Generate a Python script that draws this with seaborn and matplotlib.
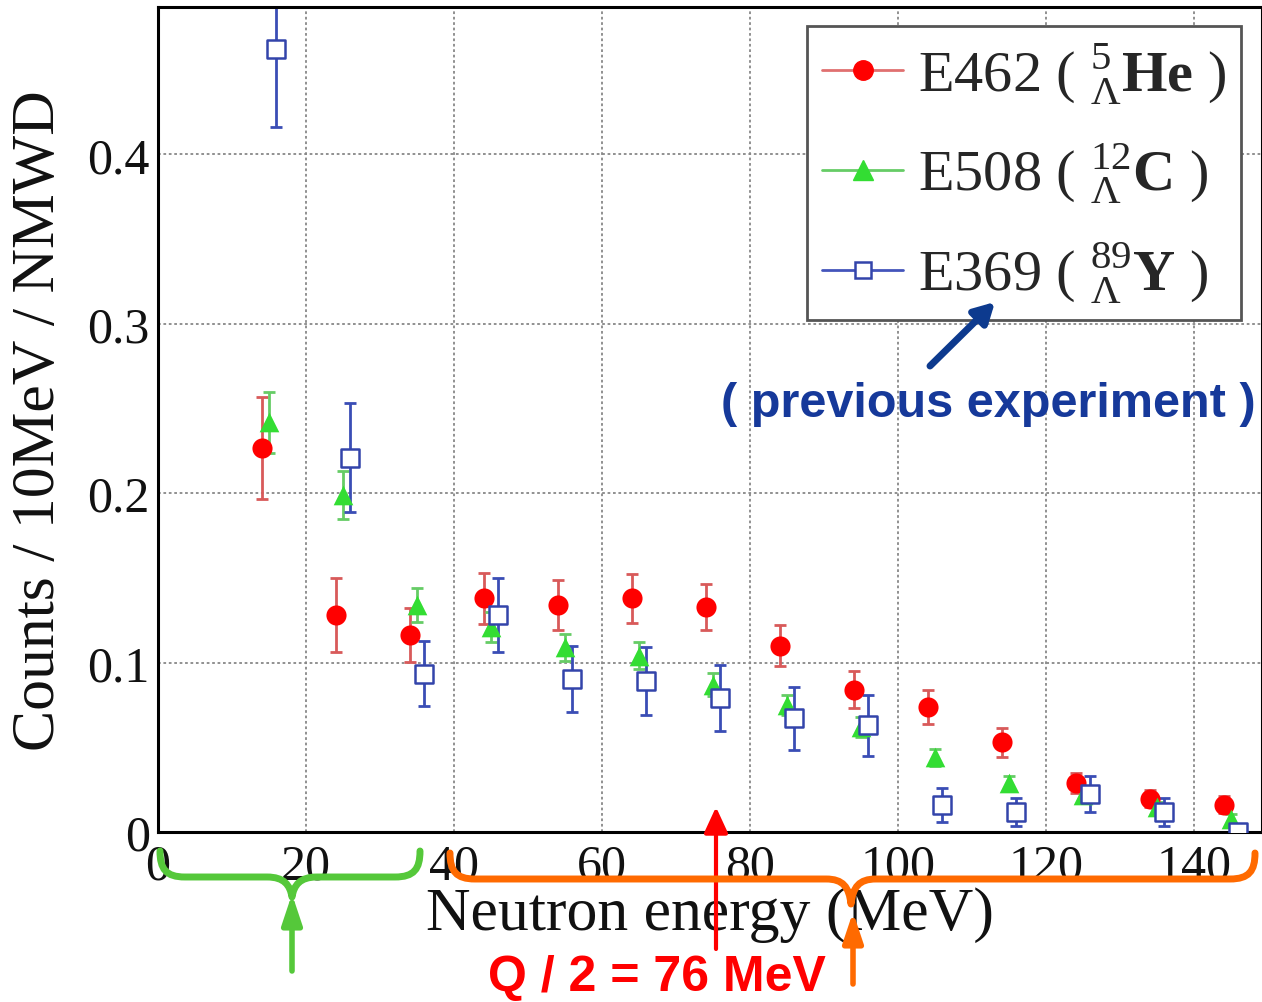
import numpy as np
import pandas as pd
import matplotlib
matplotlib.use("Agg")
import matplotlib.pyplot as plt
import seaborn as sns
from matplotlib.path import Path
from matplotlib.patches import PathPatch
from matplotlib.lines import Line2D
from matplotlib.ticker import MultipleLocator

# ---------------- data ----------------
red_x = [14, 24, 34, 44, 54, 64, 74, 84, 94, 104, 114, 124, 134, 144]
red_y = [0.2265, 0.128, 0.1165, 0.138, 0.134, 0.138, 0.133, 0.110, 0.084, 0.074, 0.053, 0.029, 0.0195, 0.016]
red_err = [0.030, 0.022, 0.016, 0.015, 0.015, 0.0145, 0.0135, 0.012, 0.011, 0.010, 0.0085, 0.006, 0.005, 0.005]

green_x = [15, 25, 35, 45, 55, 65, 75, 85, 95, 105, 115, 125, 135, 145]
green_y = [0.242, 0.199, 0.134, 0.121, 0.109, 0.104, 0.087, 0.075, 0.062, 0.044, 0.029, 0.022, 0.0147, 0.0076]
green_err = [0.018, 0.014, 0.010, 0.009, 0.008, 0.008, 0.007, 0.006, 0.006, 0.005, 0.004, 0.004, 0.003, 0.003]

blue_x = [16, 26, 36, 46, 56, 66, 76, 86, 96, 106, 116, 126, 136, 146]
blue_y = [0.462, 0.221, 0.0935, 0.128, 0.0905, 0.089, 0.079, 0.067, 0.063, 0.016, 0.0118, 0.0225, 0.0118, 0.0]
blue_err = [0.046, 0.032, 0.019, 0.022, 0.0195, 0.020, 0.0195, 0.0185, 0.018, 0.010, 0.0085, 0.0105, 0.0085, 0.002]

labels = [r"E462 ( ${}^{5}_{\Lambda}\mathbf{He}$ )",
          r"E508 ( ${}^{12}_{\Lambda}\mathbf{C}$ )",
          r"E369 ( ${}^{89}_{\Lambda}\mathbf{Y}$ )"]
x_ticks = [0, 20, 40, 60, 80, 100, 120, 140]
y_ticks = [0, 0.1, 0.2, 0.3, 0.4]
y_ticklabels = ["0", "0.1", "0.2", "0.3", "0.4"]

# ---------------- style ----------------
sns.set_theme(style="white")
plt.rcParams["font.family"] = ["Liberation Serif", "DejaVu Serif"]
plt.rcParams["mathtext.fontset"] = "custom"
plt.rcParams["mathtext.rm"] = "Liberation Serif"
plt.rcParams["mathtext.bf"] = "Liberation Serif:bold"
plt.rcParams["mathtext.it"] = "Liberation Serif:italic"

W, H = 1262, 1003
fig = plt.figure(figsize=(W / 100, H / 100), dpi=100)
fig.patch.set_facecolor("white")
ax = fig.add_axes([158 / W, 1 - 833 / H, 1 - 158 / W, (833 - 8) / H])

RED, RED_E = "#ff0000", "#d85a5a"
GRN, GRN_E = "#33dd33", "#66cc66"
BLU, BLU_E = "#3344aa", "#3a4db5"

ax.errorbar(red_x, red_y, yerr=red_err, fmt="none", ecolor=RED_E, elinewidth=2, capsize=4, capthick=2, zorder=2)
ax.errorbar(green_x, green_y, yerr=green_err, fmt="none", ecolor=GRN_E, elinewidth=2, capsize=4, capthick=2, zorder=2)
ax.errorbar(blue_x, blue_y, yerr=blue_err, fmt="none", ecolor=BLU_E, elinewidth=2, capsize=4, capthick=2, zorder=2)

sns.scatterplot(x=red_x, y=red_y, marker="o", s=210, color=RED, edgecolor=RED, linewidth=0, ax=ax, zorder=3)
sns.scatterplot(x=green_x, y=green_y, marker="^", s=200, color=GRN, edgecolor=GRN, linewidth=0, ax=ax, zorder=3)
sns.scatterplot(x=blue_x, y=blue_y, marker="s", s=150, color="white", edgecolor=BLU, linewidth=1.8, ax=ax, zorder=4)

ax.set_xlim(0, 149.2)
ax.set_ylim(0, 0.487)
ax.set_xticks(x_ticks)
ax.set_yticks(y_ticks)
ax.set_yticklabels(y_ticklabels)
ax.xaxis.set_minor_locator(MultipleLocator(5))
ax.yaxis.set_minor_locator(MultipleLocator(0.02))
ax.tick_params(which="major", direction="in", length=22, width=2.2, labelsize=36, color="black", labelcolor="#111111")
ax.tick_params(which="minor", direction="in", length=11, width=1.6, color="#333333")
ax.tick_params(axis="x", which="major", pad=8)
ax.tick_params(axis="y", which="major", pad=6)
ax.grid(True, which="major", ls=(0, (1.5, 1.5)), color="#888888", lw=1.3)
for s in ax.spines.values():
    s.set_linewidth(2.2)
    s.set_color("black")

ax.set_xlabel("Neutron energy (MeV)", fontsize=44.5, color="#111111")
ax.set_ylabel("Counts / 10MeV / NMWD", fontsize=44.5, color="#111111")
ax.xaxis.set_label_coords(0.5, -0.066)
ax.yaxis.set_label_coords(-0.082, 0.5)

handles = [
    Line2D([0], [0], color="#e07070", lw=2, marker="o", ms=14, mfc=RED, mec=RED),
    Line2D([0], [0], color="#66cc66", lw=2, marker="^", ms=14, mfc=GRN, mec=GRN),
    Line2D([0], [0], color="#4455bb", lw=2, marker="s", ms=12, mfc="white", mec=BLU, mew=1.8),
]
leg = ax.legend(handles, labels, loc="upper left", bbox_to_anchor=(0.588, 0.977), fontsize=42,
                frameon=True, fancybox=False, edgecolor="#555555", framealpha=1,
                handlelength=1.4, handletextpad=0.25, borderpad=0.25, labelspacing=0.6,
                borderaxespad=0)
leg.get_frame().set_linewidth(2)

# ---------------- annotations (figure pixel coords) ----------------
def fp(x, y):
    return (x, H - y)

fig.text(988 / W, 1 - 405 / H, "( previous experiment )", ha="center", va="center",
         fontsize=35, fontweight="bold", family=["Liberation Sans", "DejaVu Sans"], color="#16399a")
fig.text(657 / W, 1 - 978 / H, "Q / 2 = 76 MeV", ha="center", va="center",
         fontsize=36, fontweight="bold", family=["Liberation Sans"],
         color="#ff0000")

def arrow(x0, y0, x1, y1, color, lw, hw, hl):
    ax.annotate("", xy=fp(x1, y1), xytext=fp(x0, y0), xycoords="figure pixels",
                textcoords="figure pixels", annotation_clip=False, zorder=10,
                arrowprops=dict(arrowstyle=f"-|>,head_width={hw},head_length={hl}",
                                lw=lw, color=color, shrinkA=0, shrinkB=0))

arrow(930, 367, 995, 303, "#0d3a8e", 5, 0.55, 1.0)
arrow(716, 950, 716, 808, "#ff0000", 3, 0.6, 1.3)
arrow(292, 972, 292, 895, "#55c83a", 4, 0.5, 1.5)
arrow(853, 985, 853, 913, "#ff6a00", 4, 0.5, 1.5)

def brace(x0, x1, xc, yb, ytop, ytip, color):
    r = 25
    verts = [fp(x0, ytop),
             fp(x0, yb - 8), fp(x0 + 6, yb), fp(x0 + r, yb),
             fp(xc - r, yb),
             fp(xc - 8, yb), fp(xc - 2, yb + 8), fp(xc, ytip),
             fp(xc + 2, yb + 8), fp(xc + 8, yb), fp(xc + r, yb),
             fp(x1 - r, yb),
             fp(x1 - 6, yb), fp(x1, yb - 8), fp(x1, ytop)]
    codes = [Path.MOVETO,
             Path.CURVE4, Path.CURVE4, Path.CURVE4,
             Path.LINETO,
             Path.CURVE4, Path.CURVE4, Path.CURVE4,
             Path.CURVE4, Path.CURVE4, Path.CURVE4,
             Path.LINETO,
             Path.CURVE4, Path.CURVE4, Path.CURVE4]
    patch = PathPatch(Path(verts, codes), transform=None, fill=False, ec=color, lw=5,
                      capstyle="round", joinstyle="round", clip_on=False)
    fig.add_artist(patch)

brace(160, 420, 292, 878, 852, 898, "#55c83a")
brace(450, 1255, 851, 880, 854, 905, "#ff6a00")

fig.savefig("out.png", dpi=100, facecolor="white")
